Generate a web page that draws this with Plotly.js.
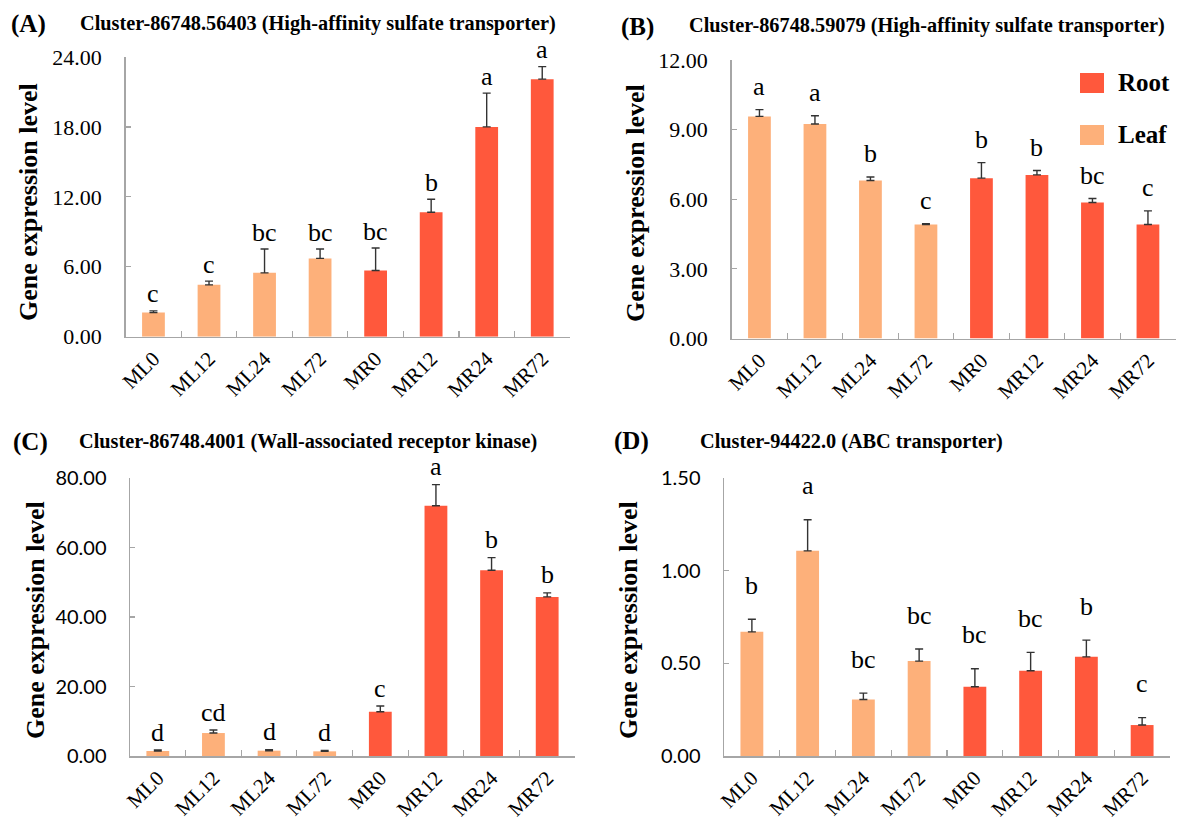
<!DOCTYPE html>
<html>
<head>
<meta charset="utf-8">
<script src="https://cdn.plot.ly/plotly-3.0.1.min.js"></script>
<style>html,body{margin:0;padding:0;background:#fff;}#chart{width:1178px;height:823px;}</style>
</head>
<body>
<div id="chart"></div>
<script>
// ---- data ----
const categories = ['ML0','ML12','ML24','ML72','MR0','MR12','MR24','MR72'];
const tissue = ['Leaf','Leaf','Leaf','Leaf','Root','Root','Root','Root'];

const titleA = 'Cluster-86748.56403 (High-affinity sulfate transporter)';
const valuesA = [2.07, 4.45, 5.48, 6.72, 5.68, 10.68, 18.0, 22.1];
const errorsA = [0.15, 0.32, 2.04, 0.80, 1.93, 1.12, 2.90, 1.07];
const lettersA = ['c','c','bc','bc','bc','b','a','a'];

const titleB = 'Cluster-86748.59079 (High-affinity sulfate transporter)';
const valuesB = [9.57, 9.24, 6.81, 4.91, 6.91, 7.05, 5.86, 4.91];
const errorsB = [0.29, 0.36, 0.15, 0.04, 0.67, 0.19, 0.17, 0.59];
const lettersB = ['a','a','b','c','b','b','bc','c'];

const titleC = 'Cluster-86748.4001 (Wall-associated receptor kinase)';
const valuesC = [1.44, 6.61, 1.53, 1.34, 12.74, 72.0, 53.45, 45.79];
const errorsC = [0.28, 0.86, 0.29, 0.29, 1.63, 6.10, 3.64, 1.15];
const lettersC = ['d','cd','d','d','c','a','b','b'];

const titleD = 'Cluster-94422.0 (ABC transporter)';
const valuesD = [0.670, 1.107, 0.305, 0.512, 0.374, 0.460, 0.535, 0.167];
const errorsD = [0.068, 0.168, 0.034, 0.065, 0.097, 0.099, 0.090, 0.040];
const lettersD = ['b','a','bc','bc','bc','bc','b','c'];

const yMax = [24, 12, 80, 1.5];
const yStep = [6, 3, 20, 0.5];
const yTitle = 'Gene expression level';
const legendNames = ['Root','Leaf'];

// ---- styles ----
const colors = {Leaf:'#FDB07A', Root:'#FF583C'};
const W = 1178, H = 823;
const serif = 'Liberation Serif, Times New Roman, serif';
const sans = 'Lato, Liberation Sans, sans-serif';
const axisGray = '#A6A6A6';

const panels = [
  {key:'A', title:titleA, v:valuesA, e:errorsA, l:lettersA, x0:125.7, x1:570, yb:336.7, yt:57, tickFont:serif,
   lab:[28,24], tt:[78,23], yt_c:[28,202], shift:17},
  {key:'B', title:titleB, v:valuesB, e:errorsB, l:lettersB, x0:731.7, x1:1175.7, yb:338.5, yt:60, tickFont:serif,
   lab:[637,27], tt:[687,26], yt_c:[636,203], shift:23},
  {key:'C', title:titleC, v:valuesC, e:errorsC, l:lettersC, x0:130, x1:575, yb:756, yt:478, tickFont:sans,
   lab:[30,442], tt:[77,441], yt_c:[35,620], shift:18},
  {key:'D', title:titleD, v:valuesD, e:errorsD, l:lettersD, x0:724, x1:1170, yb:756, yt:478, tickFont:sans,
   lab:[631,441], tt:[698,441], yt_c:[628,620], shift:34}
];

const data = [];
const layout = {
  width: W, height: H,
  margin: {l:0, r:0, t:0, b:0},
  paper_bgcolor:'#fff', plot_bgcolor:'rgba(0,0,0,0)',
  showlegend:false,
  bargap: 0.59,
  annotations: [],
  shapes: []
};

panels.forEach((p, i) => {
  const n = i === 0 ? '' : String(i+1);
  const xa = 'x' + n, ya = 'y' + n;
  data.push({
    type:'bar', x: categories, y: p.v, xaxis: xa, yaxis: ya,
    marker: {color: tissue.map(t => colors[t]), line:{width:0}},
    error_y: {type:'data', symmetric:false, array:p.e, arrayminus:p.e.map(()=>0),
              color:'#333', thickness:1.4, width:4},
    hoverinfo:'x+y'
  });
  layout['xaxis' + n] = {
    domain:[p.x0/W, p.x1/W], anchor: ya, type:'category',
    range:[-0.5, 7.5], tickson:'boundaries', ticks:'inside', ticklen:6,
    tickcolor:axisGray, tickwidth:1.2,
    showline:true, linecolor:axisGray, linewidth:1.5,
    showgrid:false, zeroline:false, tickangle:-45,
    tickfont:{family:serif, size:21, color:'#000'}
  };
  layout['yaxis' + n] = {
    domain:[1 - p.yb/H, 1 - p.yt/H], anchor: xa,
    range:[0, yMax[i]], dtick:yStep[i], tick0:0, tickformat:'.2f',
    ticks:'inside', ticklen:5, tickcolor:axisGray, tickwidth:1.2,
    showline:true, linecolor:axisGray, linewidth:1.5,
    showgrid:false, zeroline:false, ticklabelstandoff: 18,
    tickfont:{family:p.tickFont, size:p.tickFont===serif?22:20, color:'#000'}
  };
  // letters above bars
  categories.forEach((c, j) => {
    layout.annotations.push({
      xref: xa, yref: ya, x: c, y: p.v[j] + p.e[j],
      text: p.l[j], showarrow:false, yanchor:'middle', yshift:p.shift,
      font:{family:serif, size:26, color:'#000'}
    });
  });
  // panel label
  layout.annotations.push({xref:'paper', yref:'paper', x:p.lab[0]/W, y:1-p.lab[1]/H,
    text:'<b>('+p.key+')</b>', showarrow:false, xanchor:'center', yanchor:'middle',
    font:{family:serif, size:25, color:'#000'}});
  // title
  layout.annotations.push({xref:'paper', yref:'paper', x:p.tt[0]/W, y:1-p.tt[1]/H,
    text:'<b>'+p.title+'</b>', showarrow:false, xanchor:'left', yanchor:'middle',
    font:{family:serif, size:20.3, color:'#000'}});
  // y title
  layout.annotations.push({xref:'paper', yref:'paper', x:p.yt_c[0]/W, y:1-p.yt_c[1]/H,
    text:'<b>'+yTitle+'</b>', showarrow:false, textangle:-90, xanchor:'center', yanchor:'middle',
    font:{family:serif, size:26, color:'#000'}});
});

// legend (panel B)
const legY = [83, 135];
legendNames.forEach((name, k) => {
  const cy = legY[k];
  layout.shapes.push({type:'rect', xref:'paper', yref:'paper',
    x0:1080/W, x1:1104/W, y0:1-(cy+10)/H, y1:1-(cy-10)/H,
    fillcolor:colors[name], line:{width:0}});
  layout.annotations.push({xref:'paper', yref:'paper', x:1116/W, y:1-cy/H,
    text:'<b>'+name+'</b>', showarrow:false, xanchor:'left', yanchor:'middle',
    font:{family:serif, size:25, color:'#000'}});
});

Plotly.newPlot('chart', data, layout, {staticPlot:true});
</script>
</body>
</html>
